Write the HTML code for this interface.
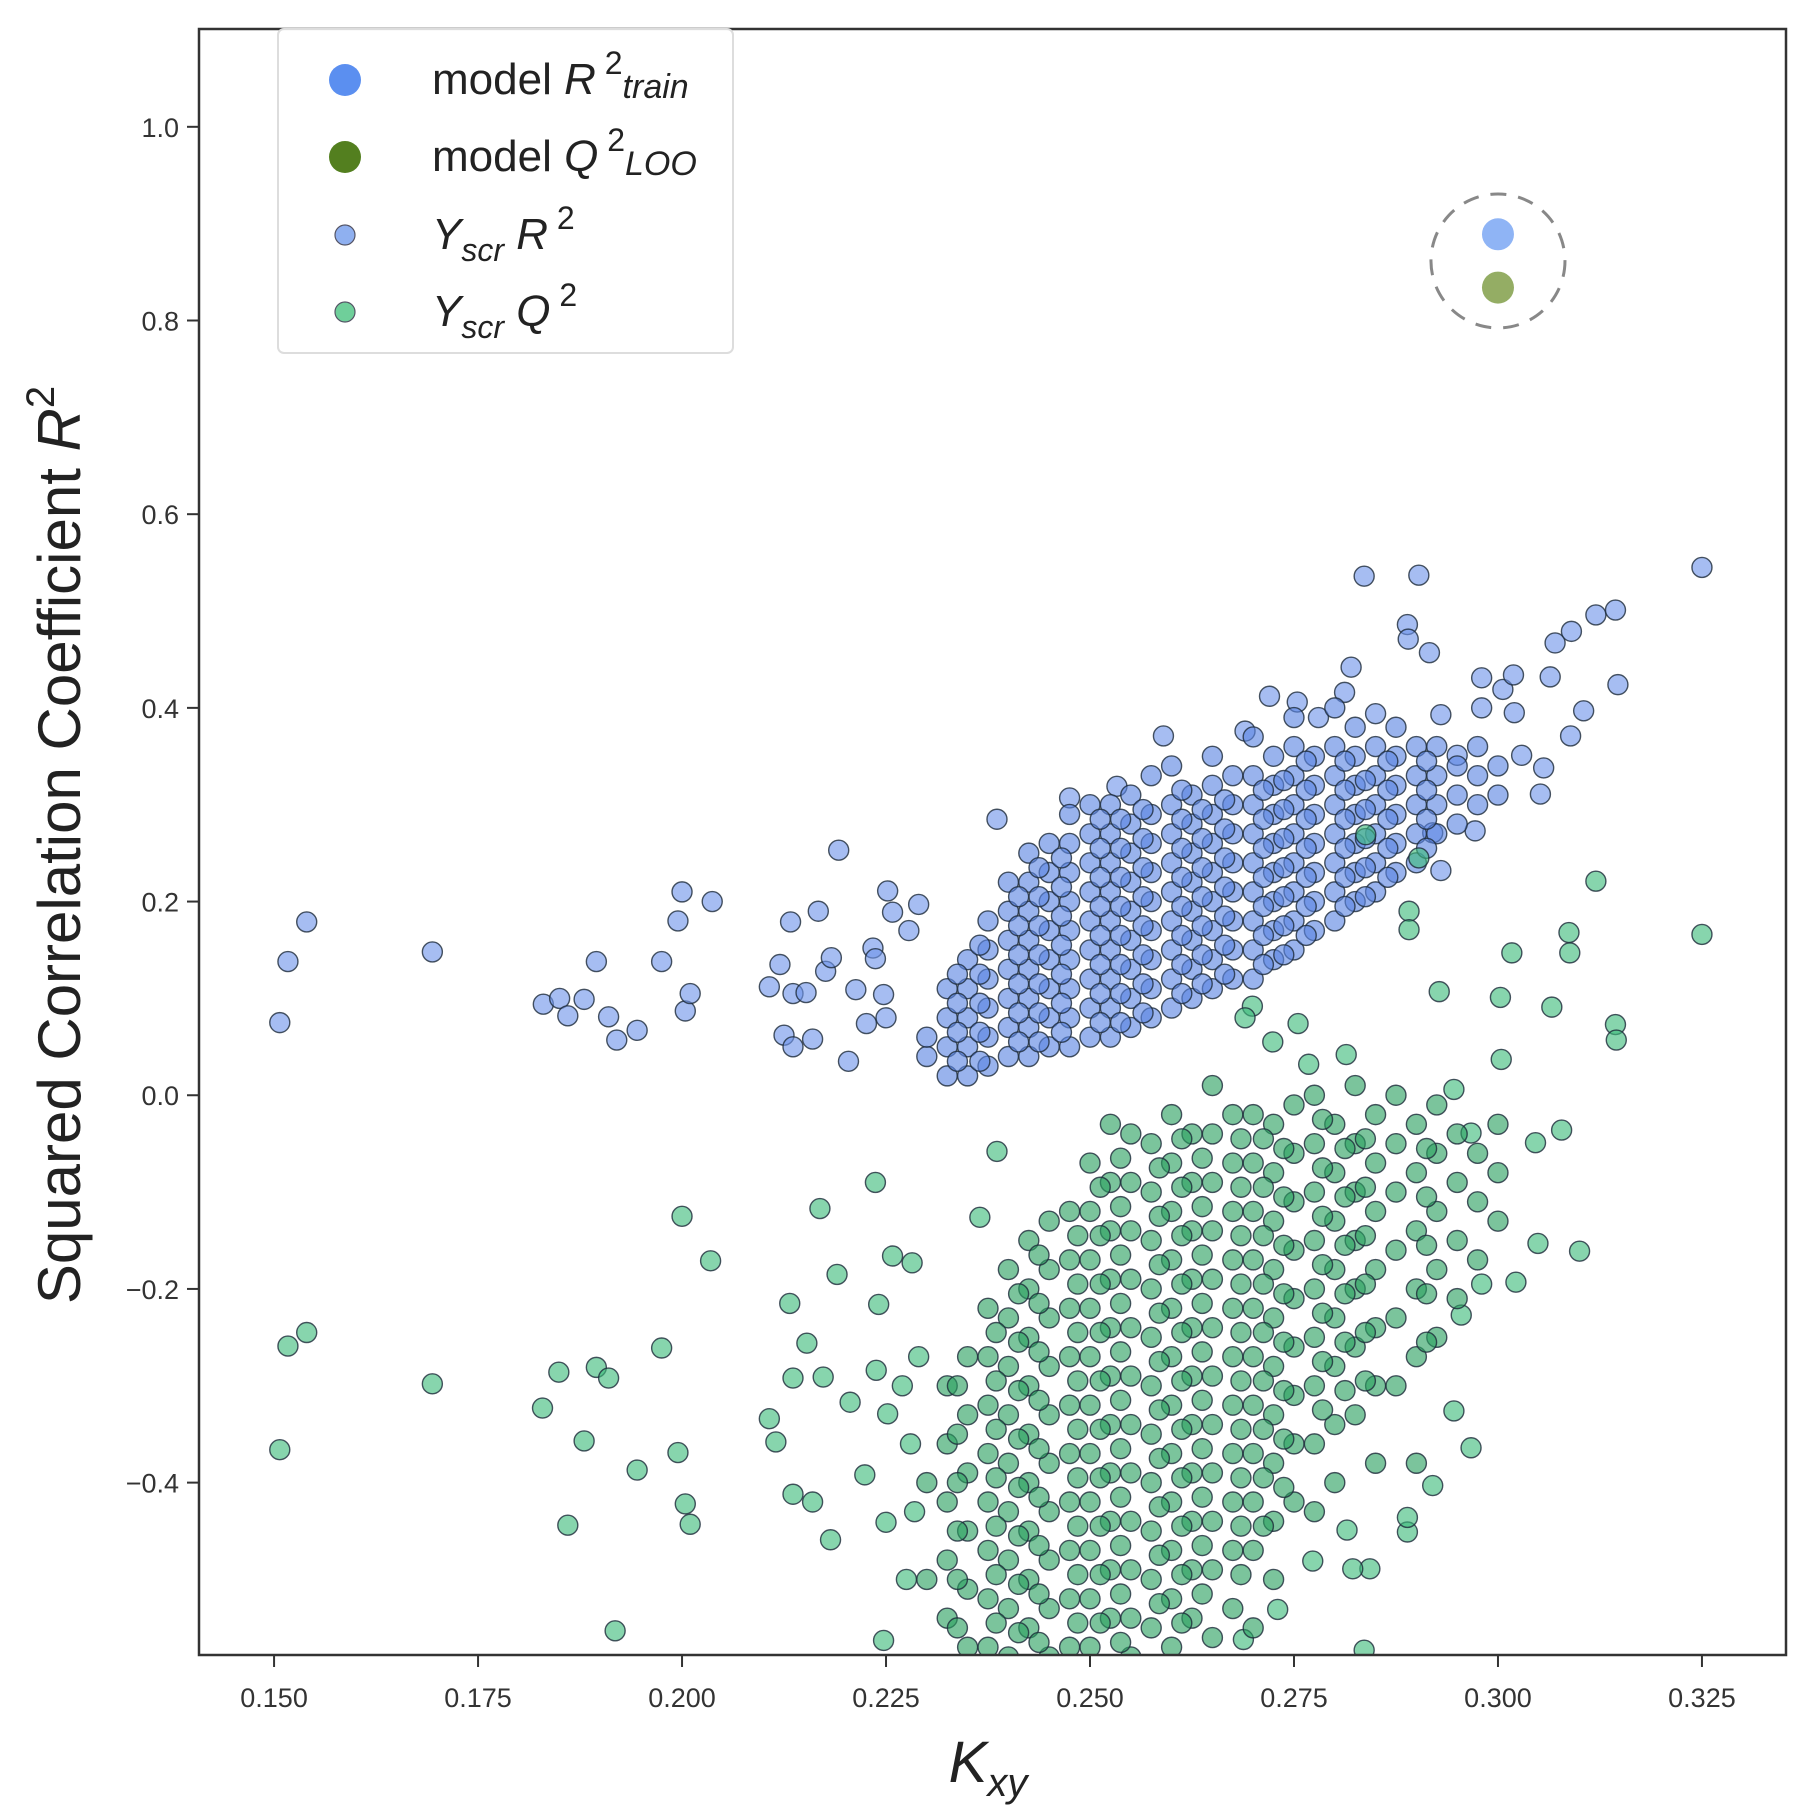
<!DOCTYPE html>
<html><head><meta charset="utf-8"><style>
html,body{margin:0;padding:0;background:#fff;}
svg{display:block;font-family:"Liberation Sans",sans-serif;}
</style></head><body>
<svg id="chart" width="1810" height="1814" viewBox="0 0 1810 1814" xmlns="http://www.w3.org/2000/svg">
<defs><clipPath id="plotclip"><rect x="199" y="29" width="1587" height="1626"/></clipPath></defs>
<rect x="0" y="0" width="1810" height="1814" fill="#fff"/>
<g id="xaxis"></g>
<g id="yaxis"></g>
<g id="marks" clip-path="url(#plotclip)"></g>
<rect x="199" y="29" width="1587" height="1626" fill="none" stroke="#333" stroke-width="2.5"/>
<text x="988" y="1782" font-size="58" font-style="italic" text-anchor="middle" fill="#222">K<tspan font-size="40" dy="14">xy</tspan></text>
<text transform="translate(80,845) rotate(-90)" font-size="60" text-anchor="middle" fill="#222">Squared Correlation Coefficient <tspan font-style="italic">R</tspan><tspan font-size="40" dy="-26">2</tspan></text>
<g>
<rect x="278" y="29" width="455" height="324" rx="6" fill="#fff" fill-opacity="0.9" stroke="#ddd" stroke-width="2"/>
<g>
<circle cx="345" cy="80" r="16" fill="#5b8ff0"/>
<text x="432" y="94" font-size="44" fill="#222">model <tspan font-style="italic">R</tspan><tspan font-size="32" dy="-20"> 2</tspan><tspan font-size="34" font-style="italic" dy="24">train</tspan></text>
</g>
<g>
<circle cx="345" cy="157" r="16" fill="#537f1f"/>
<text x="432" y="171" font-size="44" fill="#222">model <tspan font-style="italic">Q</tspan><tspan font-size="32" dy="-20"> 2</tspan><tspan font-size="34" font-style="italic" dy="24">LOO</tspan></text>
</g>
<g>
<circle cx="345" cy="235" r="10" fill="#8fb0f0" stroke="#556" stroke-width="1.2"/>
<text x="432" y="249" font-size="44" fill="#222" font-style="italic">Y<tspan font-size="32" dy="12">scr</tspan><tspan dy="-12"> R</tspan><tspan font-size="32" font-style="normal" dy="-20"> 2</tspan></text>
</g>
<g>
<circle cx="345" cy="312" r="10" fill="#6fcf9a" stroke="#556" stroke-width="1.2"/>
<text x="432" y="326" font-size="44" fill="#222" font-style="italic">Y<tspan font-size="32" dy="12">scr</tspan><tspan dy="-12"> Q</tspan><tspan font-size="32" font-style="normal" dy="-20"> 2</tspan></text>
</g>
</g>
</svg>
<script>
const xTicks = [0.150, 0.175, 0.200, 0.225, 0.250, 0.275, 0.300, 0.325];
const xTickLabels = ["0.150","0.175","0.200","0.225","0.250","0.275","0.300","0.325"];
const yTicks = [1.0, 0.8, 0.6, 0.4, 0.2, 0.0, -0.2, -0.4];
const yTickLabels = ["1.0","0.8","0.6","0.4","0.2","0.0","\u22120.2","\u22120.4"];
const modelR2 = [0.300, 0.889];
const modelQ2 = [0.300, 0.834];
const scrR2Outliers = [[0.1507,0.075],[0.1517,0.138],[0.154,0.179],[0.1694,0.148],[0.183,0.094],[0.185,0.10],[0.186,0.082],[0.188,0.099],[0.1895,0.138],[0.191,0.081],[0.192,0.057],[0.1945,0.067],[0.1975,0.138],[0.1995,0.18],[0.200,0.21],[0.2004,0.087],[0.201,0.105],[0.2037,0.2],[0.2107,0.112],[0.212,0.135],[0.2125,0.062],[0.2133,0.179],[0.2136,0.105],[0.2136,0.05],[0.2152,0.106],[0.216,0.058],[0.2167,0.19],[0.2176,0.128],[0.2183,0.142],[0.2192,0.253],[0.2204,0.035],[0.2213,0.109],[0.2226,0.074],[0.2234,0.152],[0.2237,0.141],[0.2247,0.104],[0.225,0.08],[0.2252,0.211],[0.2258,0.189],[0.2278,0.17],[0.229,0.197],[0.2386,0.285],[0.2475,0.307],[0.2533,0.319],[0.259,0.371],[0.269,0.376],[0.272,0.412],[0.2754,0.406],[0.278,0.39],[0.2812,0.416],[0.282,0.442],[0.2836,0.536],[0.285,0.394],[0.2889,0.486],[0.289,0.471],[0.2903,0.537],[0.2916,0.457],[0.293,0.393],[0.295,0.351],[0.298,0.4],[0.298,0.431],[0.3006,0.419],[0.3019,0.434],[0.302,0.395],[0.3029,0.351],[0.3052,0.311],[0.3056,0.338],[0.3064,0.432],[0.307,0.467],[0.3089,0.371],[0.309,0.479],[0.3105,0.397],[0.312,0.496],[0.3144,0.501],[0.3147,0.424],[0.325,0.545],[0.2972,0.273],[0.293,0.232],[0.292,0.271]];
const scrR2Core = [[0.230,[0.04,0.06]],[0.2325,[0.02,0.05,0.08,0.11]],[0.235,[0.02,0.05,0.08,0.11,0.14]],[0.2375,[0.03,0.06,0.09,0.12,0.15,0.18]],[0.240,[0.04,0.07,0.10,0.13,0.16,0.19,0.22]],[0.2425,[0.04,0.07,0.10,0.13,0.16,0.19,0.22,0.25]],[0.245,[0.05,0.08,0.11,0.14,0.17,0.20,0.23,0.26]],[0.2475,[0.05,0.08,0.11,0.14,0.17,0.20,0.23,0.26,0.29]],[0.250,[0.06,0.09,0.12,0.15,0.18,0.21,0.24,0.27,0.30]],[0.2525,[0.06,0.09,0.12,0.15,0.18,0.21,0.24,0.27,0.30]],[0.255,[0.07,0.10,0.13,0.16,0.19,0.22,0.25,0.28,0.31]],[0.2575,[0.08,0.11,0.14,0.17,0.20,0.23,0.26,0.29,0.33]],[0.260,[0.09,0.12,0.15,0.18,0.21,0.24,0.27,0.30,0.34]],[0.2625,[0.10,0.13,0.16,0.19,0.22,0.25,0.28,0.31]],[0.265,[0.11,0.14,0.17,0.20,0.23,0.26,0.29,0.32,0.35]],[0.2675,[0.12,0.15,0.18,0.21,0.24,0.27,0.30,0.33]],[0.270,[0.12,0.15,0.18,0.21,0.24,0.27,0.30,0.33,0.37]],[0.2725,[0.14,0.17,0.20,0.23,0.26,0.29,0.32,0.35]],[0.275,[0.15,0.18,0.21,0.24,0.27,0.30,0.33,0.36,0.39]],[0.2775,[0.17,0.20,0.23,0.26,0.29,0.32,0.35]],[0.280,[0.18,0.21,0.24,0.27,0.30,0.33,0.36,0.40]],[0.2825,[0.20,0.23,0.26,0.29,0.32,0.35,0.38]],[0.285,[0.21,0.24,0.27,0.30,0.33,0.36]],[0.2875,[0.23,0.26,0.29,0.32,0.35,0.38]],[0.290,[0.24,0.27,0.30,0.33,0.36]],[0.2925,[0.27,0.30,0.33,0.36]],[0.295,[0.28,0.31,0.34]],[0.2975,[0.30,0.33,0.36]],[0.300,[0.31,0.34]],[0.2365,[0.035,0.065,0.095,0.125,0.155]],[0.2465,[0.065,0.095,0.125,0.155,0.185,0.215,0.245]],[0.2565,[0.085,0.115,0.145,0.175,0.205,0.235,0.265,0.295]],[0.2665,[0.125,0.155,0.185,0.215,0.245,0.275,0.305]],[0.2765,[0.165,0.195,0.225,0.255,0.285,0.315,0.345]],[0.2865,[0.225,0.255,0.285,0.315,0.345]],[0.23375,[0.035,0.065,0.095,0.125]],[0.24125,[0.055,0.085,0.115,0.145,0.175,0.205]],[0.24375,[0.055,0.085,0.115,0.145,0.175,0.205,0.235]],[0.25125,[0.075,0.105,0.135,0.165,0.195,0.225,0.255,0.285]],[0.25375,[0.075,0.105,0.135,0.165,0.195,0.225,0.255,0.285]],[0.26125,[0.105,0.135,0.165,0.195,0.225,0.255,0.285,0.315]],[0.26375,[0.115,0.145,0.175,0.205,0.235,0.265,0.295]],[0.27125,[0.135,0.165,0.195,0.225,0.255,0.285,0.315]],[0.27375,[0.145,0.175,0.205,0.235,0.265,0.295,0.325]],[0.28125,[0.195,0.225,0.255,0.285,0.315,0.345]],[0.28375,[0.205,0.235,0.265,0.295,0.325]],[0.29125,[0.255,0.285,0.315,0.345]]];
const scrQ2Outliers = [[0.1507,-0.366],[0.1517,-0.259],[0.154,-0.245],[0.1694,-0.298],[0.1829,-0.323],[0.1849,-0.286],[0.186,-0.444],[0.188,-0.357],[0.1895,-0.281],[0.191,-0.292],[0.1918,-0.553],[0.1945,-0.387],[0.1975,-0.261],[0.1995,-0.369],[0.200,-0.125],[0.2004,-0.422],[0.201,-0.443],[0.2035,-0.171],[0.2107,-0.334],[0.2115,-0.358],[0.2132,-0.215],[0.2136,-0.292],[0.2136,-0.412],[0.2153,-0.256],[0.216,-0.42],[0.2169,-0.117],[0.2173,-0.291],[0.2182,-0.459],[0.219,-0.185],[0.2206,-0.317],[0.2224,-0.392],[0.2237,-0.09],[0.2238,-0.284],[0.2241,-0.216],[0.225,-0.441],[0.2252,-0.329],[0.2258,-0.166],[0.2282,-0.173],[0.2247,-0.563],[0.2386,-0.058],[0.2365,-0.126],[0.2724,0.055],[0.2755,0.074],[0.2699,0.092],[0.269,0.08],[0.2768,0.032],[0.2814,0.042],[0.2838,0.269],[0.2891,0.19],[0.2891,0.171],[0.2903,0.245],[0.2928,0.107],[0.3003,0.101],[0.3017,0.147],[0.3004,0.037],[0.3066,0.091],[0.3087,0.168],[0.3088,0.147],[0.312,0.221],[0.3144,0.073],[0.3145,0.057],[0.325,0.166],[0.3078,-0.036],[0.3046,-0.049],[0.3049,-0.153],[0.31,-0.161],[0.3022,-0.193],[0.298,-0.195],[0.2955,-0.227],[0.2967,-0.364],[0.2946,-0.326],[0.292,-0.403],[0.2889,-0.451],[0.2889,-0.436],[0.2836,-0.573],[0.2843,-0.489],[0.2822,-0.489],[0.2815,-0.449],[0.2773,-0.481],[0.273,-0.531],[0.2688,-0.562],[0.2967,-0.039],[0.2946,0.006],[0.227,-0.30],[0.228,-0.36],[0.2285,-0.43],[0.2275,-0.50],[0.229,-0.27]];
const scrQ2Core = [[0.230,[-0.40,-0.50]],[0.2325,[-0.30,-0.36,-0.42,-0.48,-0.54]],[0.235,[-0.27,-0.33,-0.39,-0.45,-0.51,-0.57]],[0.2375,[-0.22,-0.27,-0.32,-0.37,-0.42,-0.47,-0.52,-0.57]],[0.240,[-0.18,-0.23,-0.28,-0.33,-0.38,-0.43,-0.48,-0.53,-0.58]],[0.2425,[-0.15,-0.20,-0.25,-0.30,-0.35,-0.40,-0.45,-0.50,-0.55]],[0.245,[-0.13,-0.18,-0.23,-0.28,-0.33,-0.38,-0.43,-0.48,-0.53,-0.58]],[0.2475,[-0.12,-0.17,-0.22,-0.27,-0.32,-0.37,-0.42,-0.47,-0.52,-0.57]],[0.250,[-0.07,-0.12,-0.17,-0.22,-0.27,-0.32,-0.37,-0.42,-0.47,-0.52,-0.57]],[0.2525,[-0.03,-0.09,-0.14,-0.19,-0.24,-0.29,-0.34,-0.39,-0.44,-0.49,-0.54]],[0.255,[-0.04,-0.09,-0.14,-0.19,-0.24,-0.29,-0.34,-0.39,-0.44,-0.49,-0.54,-0.58]],[0.2575,[-0.05,-0.10,-0.15,-0.20,-0.25,-0.30,-0.35,-0.40,-0.45,-0.50,-0.55]],[0.260,[-0.02,-0.07,-0.12,-0.17,-0.22,-0.27,-0.32,-0.37,-0.42,-0.47,-0.52,-0.57]],[0.2625,[-0.04,-0.09,-0.14,-0.19,-0.24,-0.29,-0.34,-0.39,-0.44,-0.49,-0.54]],[0.265,[0.01,-0.04,-0.09,-0.14,-0.19,-0.24,-0.29,-0.34,-0.39,-0.44,-0.49,-0.56]],[0.2675,[-0.02,-0.07,-0.12,-0.17,-0.22,-0.27,-0.32,-0.37,-0.42,-0.47,-0.53]],[0.270,[-0.02,-0.07,-0.12,-0.17,-0.22,-0.27,-0.32,-0.37,-0.42,-0.47,-0.55]],[0.2725,[-0.03,-0.08,-0.13,-0.18,-0.23,-0.28,-0.33,-0.38,-0.44,-0.50]],[0.275,[-0.01,-0.06,-0.11,-0.16,-0.21,-0.26,-0.31,-0.36,-0.42]],[0.2775,[0.00,-0.05,-0.10,-0.15,-0.20,-0.25,-0.30,-0.36,-0.43]],[0.280,[-0.03,-0.08,-0.13,-0.18,-0.23,-0.28,-0.34,-0.40]],[0.2825,[0.01,-0.05,-0.10,-0.15,-0.20,-0.26,-0.33]],[0.285,[-0.02,-0.07,-0.12,-0.18,-0.24,-0.30,-0.38]],[0.2875,[0.00,-0.05,-0.10,-0.16,-0.23,-0.30]],[0.290,[-0.03,-0.08,-0.14,-0.20,-0.27,-0.38]],[0.2925,[-0.01,-0.06,-0.12,-0.18,-0.25]],[0.295,[-0.04,-0.09,-0.15,-0.21]],[0.2975,[-0.06,-0.11,-0.17]],[0.300,[-0.03,-0.08,-0.13]],[0.2385,[-0.245,-0.295,-0.345,-0.395,-0.445,-0.495,-0.545]],[0.2485,[-0.145,-0.195,-0.245,-0.295,-0.345,-0.395,-0.445,-0.495,-0.545]],[0.2585,[-0.075,-0.125,-0.175,-0.225,-0.275,-0.325,-0.375,-0.425,-0.475,-0.525]],[0.2685,[-0.045,-0.095,-0.145,-0.195,-0.245,-0.295,-0.345,-0.395,-0.445,-0.495]],[0.2785,[-0.025,-0.075,-0.125,-0.175,-0.225,-0.275,-0.325]],[0.23375,[-0.30,-0.35,-0.40,-0.45,-0.50,-0.55]],[0.24125,[-0.205,-0.255,-0.305,-0.355,-0.405,-0.455,-0.505,-0.555]],[0.24375,[-0.165,-0.215,-0.265,-0.315,-0.365,-0.415,-0.465,-0.515,-0.565]],[0.25125,[-0.095,-0.145,-0.195,-0.245,-0.295,-0.345,-0.395,-0.445,-0.495,-0.545]],[0.25375,[-0.065,-0.115,-0.165,-0.215,-0.265,-0.315,-0.365,-0.415,-0.465,-0.515,-0.565]],[0.26125,[-0.045,-0.095,-0.145,-0.195,-0.245,-0.295,-0.345,-0.395,-0.445,-0.495,-0.545]],[0.26375,[-0.065,-0.115,-0.165,-0.215,-0.265,-0.315,-0.365,-0.415,-0.465,-0.515]],[0.27125,[-0.045,-0.095,-0.145,-0.195,-0.245,-0.295,-0.345,-0.395,-0.445]],[0.27375,[-0.055,-0.105,-0.155,-0.205,-0.255,-0.305,-0.355,-0.405]],[0.28125,[-0.055,-0.105,-0.155,-0.205,-0.255,-0.305]],[0.28375,[-0.045,-0.095,-0.145,-0.195,-0.245,-0.295]],[0.29125,[-0.055,-0.105,-0.155,-0.205,-0.255]]];

const NS = "http://www.w3.org/2000/svg";
const PL = 199, PR = 1786, PT = 29, PB = 1655;
const X0 = 0.1408, X1 = 0.3353, Y0 = -0.578, Y1 = 1.101;
function sx(v){ return PL + (v - X0) / (X1 - X0) * (PR - PL); }
function sy(v){ return PB - (v - Y0) / (Y1 - Y0) * (PB - PT); }
function mk(tag, attrs, parent){ const e = document.createElementNS(NS, tag); for (const k in attrs) e.setAttribute(k, attrs[k]); parent.appendChild(e); return e; }

const xa = document.getElementById('xaxis');
xTicks.forEach((t, i) => {
  const ln = mk('line', {x1: sx(t), x2: sx(t), y1: PB, y2: PB + 12, stroke: '#333', 'stroke-width': 2}, xa);
  
  
  const tx = mk('text', {x: sx(t), y: PB + 52, 'font-size': 27, 'text-anchor': 'middle', fill: '#333'}, xa);
  tx.textContent = xTickLabels[i];
  
  
});
const ya = document.getElementById('yaxis');
yTicks.forEach((t, i) => {
  const ln = mk('line', {x1: PL - 12, x2: PL, y1: sy(t), y2: sy(t), stroke: '#333', 'stroke-width': 2}, ya);
  
  
  const tx = mk('text', {x: PL - 20, y: sy(t) + 10, 'font-size': 27, 'text-anchor': 'end', fill: '#333'}, ya);
  tx.textContent = yTickLabels[i];
  
  
});

const marks = document.getElementById('marks');
function dot(x, y, fill, name){
  const c = mk('circle', {cx: sx(x), cy: sy(y), r: 10, fill: fill, 'fill-opacity': 0.62, stroke: '#1d2a3a', 'stroke-opacity': 0.8, 'stroke-width': 1.4}, marks);
  
  
}
scrR2Outliers.forEach(p => dot(p[0], p[1], '#6f95ea', 'yscr-r2-point'));
scrR2Core.forEach(col => col[1].forEach(y => dot(col[0], y, '#5a84e2', 'yscr-r2-point')));
scrQ2Outliers.forEach(p => dot(p[0], p[1], '#3dbb7a', 'yscr-q2-point'));
scrQ2Core.forEach(col => col[1].forEach(y => dot(col[0], y, '#2aa060', 'yscr-q2-point')));

const ring = mk('circle', {cx: sx(modelR2[0]), cy: (sy(modelR2[1]) + sy(modelQ2[1])) / 2, r: 67, fill: 'none', stroke: '#888', 'stroke-width': 3, 'stroke-dasharray': '16 12'}, marks);


const mr = mk('circle', {cx: sx(modelR2[0]), cy: sy(modelR2[1]), r: 16, fill: '#8fb4f5'}, marks);


const mq = mk('circle', {cx: sx(modelQ2[0]), cy: sy(modelQ2[1]), r: 16, fill: '#94ad64'}, marks);


</script>
</body></html>
